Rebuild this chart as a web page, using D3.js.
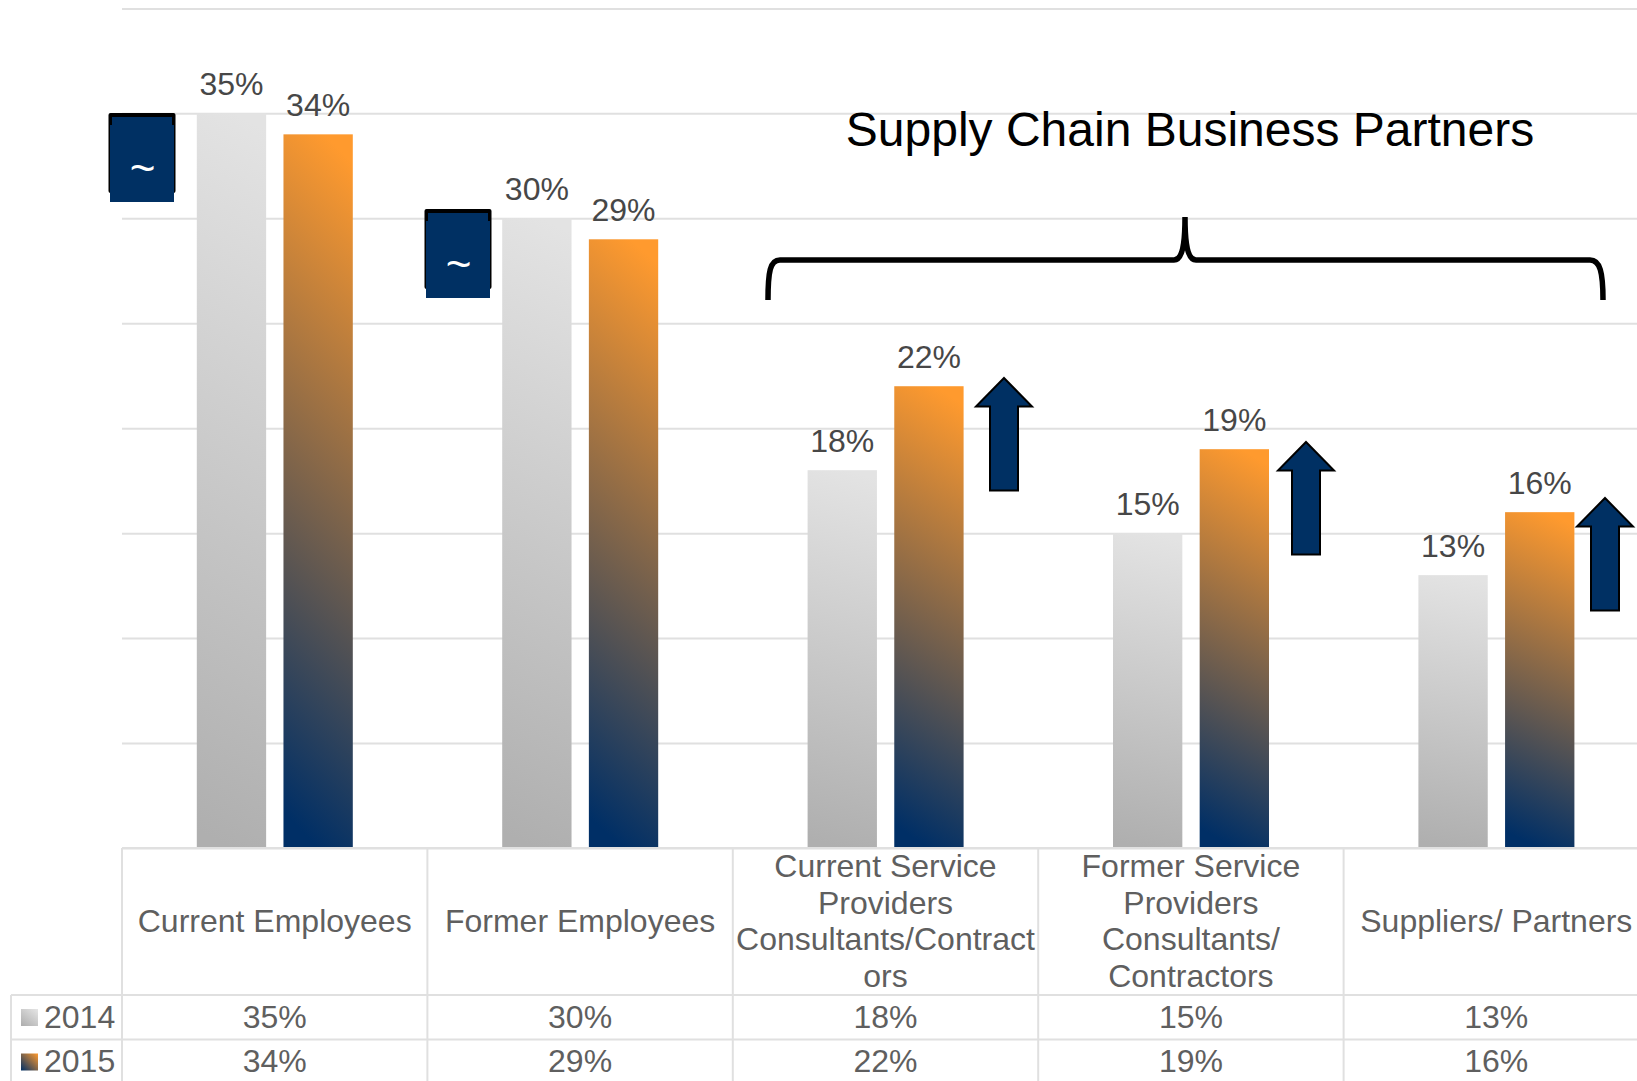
<!DOCTYPE html>
<html>
<head>
<meta charset="utf-8">
<script src="https://cdn.jsdelivr.net/npm/d3@7"></script>
<style>
  html, body { margin: 0; padding: 0; background: #fff; overflow: hidden; }
  svg { display: block; }
  text { font-family: "Liberation Sans", Arial, sans-serif; }
</style>
</head>
<body>
<svg class="chart" width="1637" height="1081"></svg>
<script>
const WIDTH = 1637;
const HEIGHT = 1081;
const GRID = '#e0e0e0';
const NAVY = '#003063';

const categories = ['Current Employees', 'Former Employees', 'Current Service', 'Former Service', 'Suppliers/ Partners'];
const categoryLines = [
  ['Current Employees'],
  ['Former Employees'],
  ['Current Service', 'Providers', 'Consultants/Contract', 'ors'],
  ['Former Service', 'Providers', 'Consultants/', 'Contractors'],
  ['Suppliers/ Partners'],
];
const seriesNames = ['2014', '2015'];
const values2014 = [35, 30, 18, 15, 13];
const values2015 = [34, 29, 22, 19, 16];
const yTicks = [0, 5, 10, 15, 20, 25, 30, 35, 40];

const svg = d3.select('.chart');
const seriesValues = [values2014, values2015];

// scales
const x = d3.scaleBand().domain(categories).range([122, 1649]);
const xInner = d3.scaleBand().domain(seriesNames).range([0.1, x.bandwidth() + 0.1])
  .paddingInner(0.2).paddingOuter(0.862);
const y = d3.scaleLinear().domain([0, 40]).range([848, 8.4]);

// gradients
const defs = svg.append('defs');
function addGradient(id, stops, coords) {
  const g = defs.append('linearGradient').attr('id', id)
    .attr('x1', coords[0]).attr('y1', coords[1]).attr('x2', coords[2]).attr('y2', coords[3]);
  stops.forEach(([o, c]) => g.append('stop').attr('offset', o).attr('stop-color', c));
}
const grey = [[0, '#e3e3e3'], [1, '#afafaf']];
const orange = [[0, '#ff9a2e'], [1, '#002f66']];
addGradient('bar2014', grey, [0.55, 0, 0.5, 1]);
addGradient('bar2015', orange, [0.6, 0, 0.5, 1]);
addGradient('key2014', grey, [0.9, 0, 0.1, 1]);
addGradient('key2015', orange, [1, 0, 0, 1]);

// gridlines
const grid = svg.append('g')
  .attr('transform', `translate(${x.range()[0]},0)`)
  .call(d3.axisLeft(y).tickValues(yTicks).tickSize(-(WIDTH - x.range()[0])).tickFormat(''));
grid.select('.domain').remove();
grid.selectAll('line').attr('stroke', GRID).attr('stroke-width', 2);

// bars
const groups = svg.selectAll('.cat').data(categories).enter().append('g')
  .attr('class', 'cat')
  .attr('transform', (d) => `translate(${x(d)},0)`);

seriesNames.forEach((name, s) => {
  groups.append('rect')
    .attr('x', xInner(name))
    .attr('width', xInner.bandwidth())
    .attr('y', (d, i) => y(seriesValues[s][i]))
    .attr('height', (d, i) => y(0) - y(seriesValues[s][i]))
    .attr('fill', `url(#bar${name})`);

  groups.append('text')
    .attr('x', xInner(name) + xInner.bandwidth() / 2)
    .attr('y', (d, i) => y(seriesValues[s][i]) - 18)
    .attr('text-anchor', 'middle')
    .attr('font-size', 32)
    .attr('fill', '#474747')
    .text((d, i) => `${seriesValues[s][i]}%`);
});

// data table
const rowTops = [848, 995, 1039.5, 1090];
const table = svg.append('g').attr('stroke', GRID).attr('stroke-width', 2);
rowTops.forEach((r, i) => {
  table.append('line')
    .attr('x1', i === 0 ? x.range()[0] : 11).attr('x2', WIDTH)
    .attr('y1', r).attr('y2', r);
});
[...categories.map((c) => x(c)), x.range()[1]].forEach((px) => {
  table.append('line').attr('x1', px).attr('x2', px).attr('y1', rowTops[0]).attr('y2', HEIGHT);
});
table.append('line').attr('x1', 11).attr('x2', 11).attr('y1', rowTops[1]).attr('y2', HEIGHT);

// category headers
categoryLines.forEach((lines, i) => {
  const cx = x(categories[i]) + x.bandwidth() / 2;
  const top = 921 - ((lines.length - 1) * 36.6) / 2 + 11;
  svg.append('text')
    .attr('text-anchor', 'middle')
    .attr('font-size', 32)
    .attr('fill', '#5f5f5f')
    .selectAll('tspan').data(lines).enter().append('tspan')
    .attr('x', cx)
    .attr('y', (d, k) => top + k * 36.6)
    .text((d) => d);
});

// table values and legend keys
seriesNames.forEach((name, s) => {
  const base = rowTops[s + 1] + 32.5;
  categories.forEach((c, i) => {
    svg.append('text')
      .attr('x', x(c) + x.bandwidth() / 2)
      .attr('y', base)
      .attr('text-anchor', 'middle')
      .attr('font-size', 32)
      .attr('fill', '#5f5f5f')
      .text(`${seriesValues[s][i]}%`);
  });
  svg.append('rect')
    .attr('x', 21).attr('y', rowTops[s + 1] + 14)
    .attr('width', 17).attr('height', 17)
    .attr('fill', `url(#key${name})`);
  svg.append('text')
    .attr('x', 44).attr('y', base)
    .attr('font-size', 32)
    .attr('fill', '#5f5f5f')
    .text(name);
});

// "no change" boxes
[[108.5, 113], [424.5, 209]].forEach(([bx, by]) => {
  svg.append('rect')
    .attr('x', bx).attr('y', by).attr('width', 67).attr('height', 80).attr('rx', 2)
    .attr('fill', '#000');
  svg.append('rect')
    .attr('x', bx + 3.5).attr('y', by + 4).attr('width', 60).attr('height', 12)
    .attr('fill', NAVY);
  svg.append('rect')
    .attr('x', bx + 1.5).attr('y', by + 12).attr('width', 64).attr('height', 77)
    .attr('fill', NAVY);
  svg.append('text')
    .attr('x', bx + 34).attr('y', by + 70)
    .attr('text-anchor', 'middle')
    .attr('font-size', 44)
    .attr('font-family', '"Liberation Serif", serif')
    .attr('fill', '#fff')
    .text('~');
});

// up arrows
[[1004, 378], [1306, 442], [1605, 498]].forEach(([ax, ay]) => {
  const d = d3.path();
  d.moveTo(ax, ay);
  d.lineTo(ax + 28, ay + 28.5);
  d.lineTo(ax + 14, ay + 28.5);
  d.lineTo(ax + 14, ay + 112.5);
  d.lineTo(ax - 14, ay + 112.5);
  d.lineTo(ax - 14, ay + 28.5);
  d.lineTo(ax - 28, ay + 28.5);
  d.closePath();
  svg.append('path').attr('d', d.toString())
    .attr('fill', NAVY).attr('stroke', '#000').attr('stroke-width', 2);
});

// brace
const brace = d3.path();
brace.moveTo(768, 300);
brace.bezierCurveTo(768, 272, 770, 260, 780, 260);
brace.lineTo(1174, 260);
brace.bezierCurveTo(1182, 260, 1185, 245, 1185, 217);
brace.bezierCurveTo(1185, 245, 1188, 260, 1196, 260);
brace.lineTo(1590, 260);
brace.bezierCurveTo(1600, 260, 1603, 272, 1603, 300);
svg.append('path').attr('d', brace.toString())
  .attr('fill', 'none').attr('stroke', '#000').attr('stroke-width', 5.5);

svg.append('text')
  .attr('x', 1190).attr('y', 146)
  .attr('text-anchor', 'middle')
  .attr('font-size', 48)
  .attr('fill', '#000')
  .text('Supply Chain Business Partners');
</script>
</body>
</html>
